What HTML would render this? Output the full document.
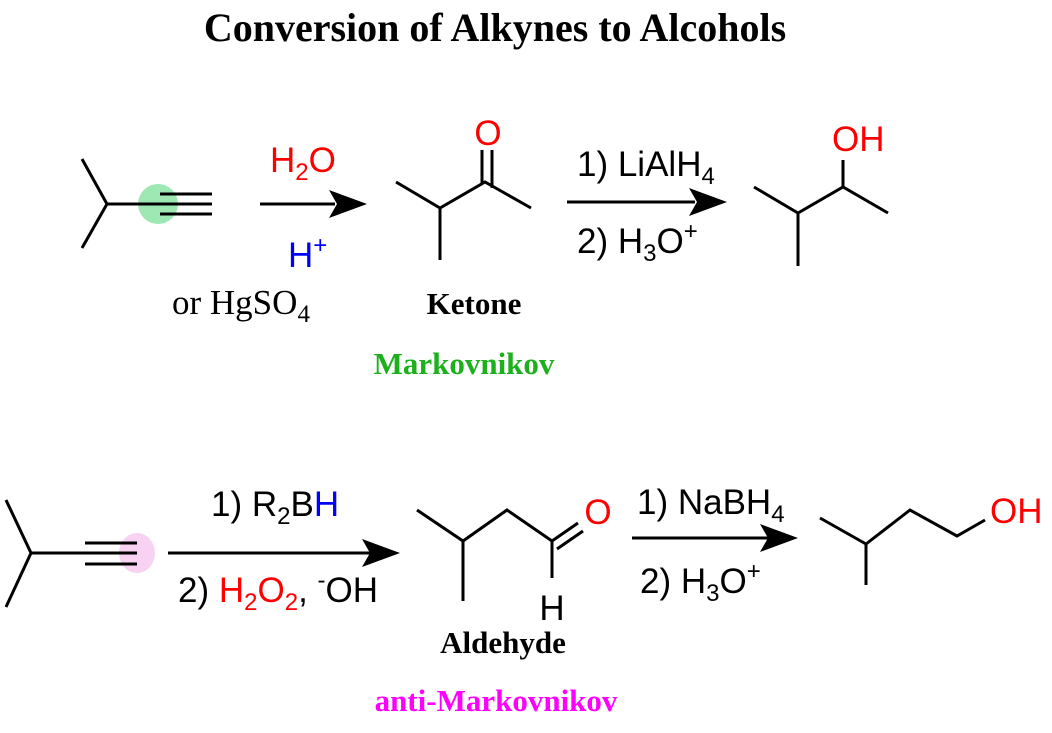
<!DOCTYPE html>
<html><head><meta charset="utf-8"><style>body{margin:0;background:#fff}svg{display:block}</style></head>
<body>
<svg width="1052" height="733" viewBox="0 0 1052 733" xmlns="http://www.w3.org/2000/svg">
<text x="495" y="41" text-anchor="middle" font-family="Liberation Serif, serif" font-weight="bold" font-size="40">Conversion of Alkynes to Alcohols</text>
<circle cx="158" cy="204" r="20" fill="#9ee8b4"/>
<ellipse cx="137" cy="553" rx="18" ry="20" fill="#f7d2f3"/>
<g stroke="#000" stroke-width="3" fill="none" stroke-linecap="butt">
<polyline points="82,159 107,204 82,248"/>
<line x1="107" y1="204" x2="160" y2="204"/>
<line x1="160" y1="194" x2="212" y2="194"/><line x1="160" y1="204" x2="212" y2="204"/><line x1="160" y1="214" x2="212" y2="214"/>
<line x1="260" y1="204" x2="335" y2="204"/>
<polyline points="396,182 440,208 485,182 531,208"/>
<line x1="440" y1="208" x2="440" y2="260"/>
<line x1="482" y1="183" x2="482" y2="150"/><line x1="492" y1="188" x2="492" y2="150"/>
<line x1="567" y1="202" x2="695" y2="202"/>
<polyline points="754,187 798,213 843,187 888,213"/>
<line x1="798" y1="213" x2="798" y2="266"/>
<line x1="843" y1="187" x2="843" y2="160"/>
<polyline points="6,500 31,553 6,607"/>
<line x1="31" y1="553" x2="85" y2="553"/>
<line x1="85" y1="543" x2="137" y2="543"/><line x1="85" y1="553" x2="137" y2="553"/><line x1="85" y1="564" x2="137" y2="564"/>
<line x1="168" y1="553" x2="370" y2="553"/>
<polyline points="417,510 463,541 507,510 552,541"/>
<line x1="463" y1="541" x2="463" y2="601"/>
<line x1="552" y1="541" x2="552" y2="578"/>
<line x1="552" y1="541" x2="578" y2="523"/><line x1="557" y1="549" x2="583" y2="531"/>
<line x1="632" y1="538" x2="768" y2="538"/>
<polyline points="820,518 866,544 910,510 957,536 985,520"/>
<line x1="866" y1="544" x2="866" y2="585"/>
</g>
<g fill="#000">
<polygon points="367,204 329,190 337,204 329,218"/>
<polygon points="727,202 689,188 697,202 689,216"/>
<polygon points="400,553 362,539 370,553 362,567"/>
<polygon points="798,538 760,524 768,538 760,552"/>
</g>
<g font-family="Liberation Sans, sans-serif" font-size="35">
<text x="270" y="172" fill="#f00">H<tspan font-size="24" dy="8">2</tspan><tspan dy="-8">O</tspan></text>
<text x="288" y="267" fill="#00f">H<tspan font-size="24" dy="-14">+</tspan></text>
<text x="488" y="145" fill="#f00" text-anchor="middle">O</text>
<text x="577" y="176">1) LiAlH<tspan font-size="24" dy="8">4</tspan></text>
<text x="577" y="253">2) H<tspan font-size="24" dy="8">3</tspan><tspan dy="-8">O</tspan><tspan font-size="24" dy="-14">+</tspan></text>
<text x="832" y="151" fill="#f00">OH</text>
<text x="211" y="516">1) R<tspan font-size="24" dy="8">2</tspan><tspan dy="-8">B</tspan><tspan fill="#00f">H</tspan></text>
<text x="178" y="602">2) <tspan fill="#f00">H<tspan font-size="24" dy="8">2</tspan><tspan dy="-8">O</tspan><tspan font-size="24" dy="8">2</tspan></tspan><tspan dy="-8">, </tspan><tspan font-size="24" dy="-14">-</tspan><tspan dy="14">OH</tspan></text>
<text x="598" y="524" fill="#f00" text-anchor="middle">O</text>
<text x="552" y="620" text-anchor="middle">H</text>
<text x="637" y="514">1) NaBH<tspan font-size="24" dy="8">4</tspan></text>
<text x="640" y="593">2) H<tspan font-size="24" dy="8">3</tspan><tspan dy="-8">O</tspan><tspan font-size="24" dy="-14">+</tspan></text>
<text x="990" y="523" fill="#f00">OH</text>
</g>
<g font-family="Liberation Serif, serif" font-size="35">
<text x="172" y="314">or HgSO<tspan font-size="25" dy="8">4</tspan></text>
</g>
<g font-family="Liberation Serif, serif" font-weight="bold" font-size="31">
<text x="474" y="314" text-anchor="middle">Ketone</text>
<text x="464" y="374" text-anchor="middle" fill="#1cb01c">Markovnikov</text>
<text x="503" y="653" text-anchor="middle">Aldehyde</text>
<text x="496" y="711" text-anchor="middle" fill="#f0f">anti-Markovnikov</text>
</g>
</svg>
</body></html>
